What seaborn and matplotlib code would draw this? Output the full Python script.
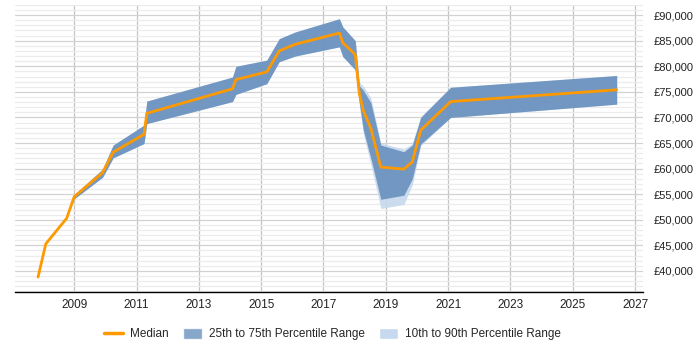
import numpy as np
import pandas as pd
import seaborn as sns
import matplotlib.pyplot as plt
from matplotlib.lines import Line2D
from matplotlib.patches import Patch
from matplotlib.ticker import FuncFormatter, MultipleLocator

# datos
years = [2007.84, 2008.09, 2008.76, 2009.00, 2009.91, 2010.25, 2011.24, 2011.33,
         2014.08, 2014.19, 2015.18, 2015.58, 2016.09, 2017.51, 2017.62, 2018.02,
         2018.15, 2018.28, 2018.52, 2018.84, 2019.58, 2019.85, 2020.12, 2021.08,
         2026.41]
median = [38800, 45300, 50300, 54500, 59200, 63200, 66700, 70800,
          75600, 77400, 78900, 83000, 84300, 86500, 84600, 82300,
          74700, 71300, 67900, 60300, 59900, 61300, 67500, 73100,
          75400]
p25 = [38800, 45300, 50300, 54100, 58300, 62100, 64900, 68800,
       73100, 74500, 76600, 80900, 82000, 83800, 81900, 79300,
       72800, 67500, 62000, 54000, 54800, 58000, 64800, 70000,
       72600]
p75 = [38800, 45300, 50300, 54900, 59900, 64600, 68500, 73200,
       77900, 80000, 81200, 85400, 86700, 89300, 87700, 85000,
       76200, 75300, 72900, 64600, 63300, 64600, 70000, 75900,
       78200]
p10 = [38800, 45300, 50300, 54100, 58300, 62100, 64900, 68800,
       73100, 74500, 76600, 80900, 82000, 83800, 81900, 79300,
       72500, 66800, 60800, 52200, 53000, 56800, 64500, 70000,
       72600]
p90 = [38800, 45300, 50300, 54900, 59900, 64600, 68500, 73200,
       77900, 80000, 81200, 85400, 86700, 89300, 87700, 85000,
       76900, 76100, 73800, 65000, 63800, 64900, 70200, 75900,
       78200]

df = pd.DataFrame({'year': years, 'median': median,
                   'p25': p25, 'p75': p75, 'p10': p10, 'p90': p90})

sns.set_style('white')
plt.rcParams['font.family'] = ['Liberation Sans', 'DejaVu Sans']

fig = plt.figure(figsize=(7, 3.5), dpi=100)
ax = fig.add_axes([0.0214, 0.166, 0.897, 0.82])

# rejilla
ax.set_xlim(2007.1, 2027.25)
ax.set_ylim(35900, 92000)
ax.xaxis.set_major_locator(MultipleLocator(2))
ax.yaxis.set_major_locator(MultipleLocator(5000))
ax.yaxis.set_minor_locator(MultipleLocator(1000))
ax.grid(axis='x', which='major', color='#c4c4c4', lw=0.9)
ax.grid(axis='y', which='major', color='#d2d2d2', lw=0.9)
ax.grid(axis='y', which='minor', color='#ececec', lw=0.9)
ax.set_axisbelow(True)
ax.set_xticks(range(2009, 2028, 2))

# bandas de percentiles
ax.fill_between(df['year'], df['p10'], df['p90'], color='#c6d9ee', alpha=0.9, lw=0)
ax.fill_between(df['year'], df['p25'], df['p75'], color='#6890bd', alpha=0.9, lw=0)
sns.lineplot(data=df, x='year', y='median', color='#ff9900', lw=2, ax=ax)

ax.yaxis.tick_right()
ax.yaxis.set_major_formatter(FuncFormatter(lambda v, p: '£{:,.0f}'.format(v)))
ax.tick_params(axis='y', which='both', length=0, pad=8, labelsize=8, labelcolor='#222222')
ax.tick_params(axis='x', which='both', length=0, pad=5, labelsize=8.5, labelcolor='#222222')
ax.set_xlabel('')
ax.set_ylabel('')
for s in ['top', 'right', 'left']:
    ax.spines[s].set_visible(False)
ax.spines['bottom'].set_color('#000000')
ax.spines['bottom'].set_linewidth(1)

handles = [Line2D([0], [0], color='#ff9900', lw=2.5),
           Patch(facecolor='#6890bd', alpha=0.8),
           Patch(facecolor='#c6d9ee')]
labels = ['Median', '25th to 75th Percentile Range', '10th to 90th Percentile Range']
fig.legend(handles, labels, loc='center', bbox_to_anchor=(0.475, 0.045), ncol=3,
           frameon=False, fontsize=8.5, handlelength=1.6, handleheight=1.0,
           columnspacing=1.2, handletextpad=0.6)

fig.savefig('out.png', dpi=100)
